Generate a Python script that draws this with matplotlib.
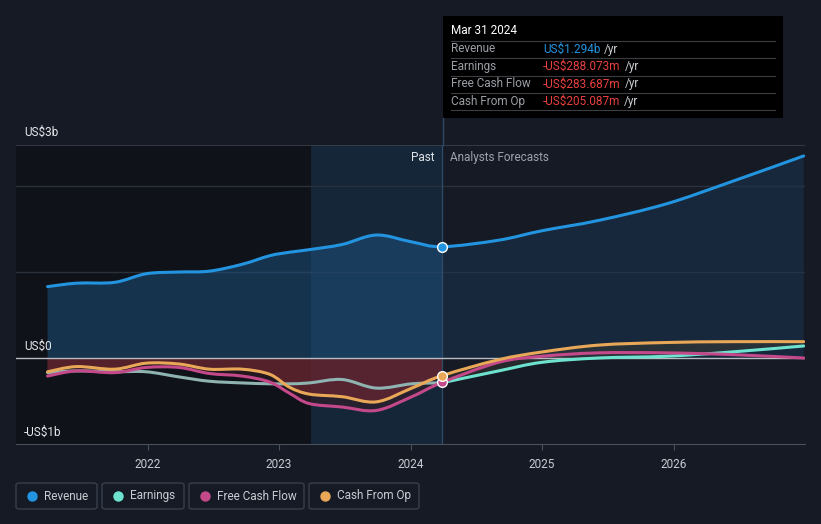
import matplotlib
matplotlib.use("Agg")
import matplotlib.pyplot as plt
from matplotlib.patches import FancyBboxPatch, Rectangle, PathPatch
from matplotlib.path import Path
import numpy as np

plt.rcParams['font.family'] = ['Roboto', 'DejaVu Sans']

# data (US$ billions, time in fractional years)
past_t = [2021.24, 2021.46, 2021.75, 2021.99, 2022.24, 2022.47, 2022.72, 2022.93,
          2023.08, 2023.23, 2023.48, 2023.74, 2024.01, 2024.24]
revenue_past = [0.83, 0.87, 0.88, 0.98, 1.00, 1.01, 1.09, 1.19, 1.23, 1.26, 1.32, 1.43, 1.35, 1.294]
earnings_past = [-0.17, -0.15, -0.16, -0.16, -0.22, -0.27, -0.29, -0.30, -0.30, -0.29, -0.25, -0.35, -0.30, -0.288]
fcf_past = [-0.21, -0.15, -0.17, -0.11, -0.11, -0.18, -0.21, -0.28, -0.41, -0.53, -0.57, -0.61, -0.45, -0.284]
cfo_past = [-0.16, -0.10, -0.13, -0.06, -0.07, -0.13, -0.13, -0.19, -0.34, -0.42, -0.45, -0.51, -0.35, -0.205]

fc_t = [2024.24, 2024.67, 2025.0, 2025.43, 2025.94, 2026.44, 2026.99]
revenue_fc = [1.294, 1.37, 1.48, 1.60, 1.79, 2.05, 2.35]
earnings_fc = [-0.288, -0.15, -0.05, 0.0, 0.02, 0.07, 0.14]
fcf_fc = [-0.284, -0.05, 0.02, 0.06, 0.06, 0.04, 0.0]
cfo_fc = [-0.205, -0.02, 0.07, 0.15, 0.18, 0.19, 0.19]

year_ticks = [2022, 2023, 2024, 2025, 2026]
now_t = 2024.24
hl_start = 2023.24

C_REV = '#2394df'
C_EARN = '#6de3cf'
C_FCF = '#c4498a'
C_CFO = '#e8a857'
BG = '#151a24'

W, H = 821, 524
fig = plt.figure(figsize=(W / 100, H / 100), dpi=100, facecolor=BG)

x0, x1 = 2021.0, 2027.0
ymin, ymax = -1.0, 2.477
ax = fig.add_axes([16 / W, 1 - 444 / H, (805 - 16) / W, (444 - 145) / H])
ax.set_facecolor(BG)
ax.set_xlim(x0, x1)
ax.set_ylim(ymin, ymax)


def smooth(xs, ys):
    # bezier path through the points (drawing only)
    p = np.column_stack([xs, ys]).astype(float)
    verts = [p[0]]
    codes = [Path.MOVETO]
    n = len(p)
    for i in range(n - 1):
        a = p[i - 1] if i > 0 else p[i]
        b, c = p[i], p[i + 1]
        d = p[i + 2] if i + 2 < n else p[i + 1]
        verts += [b + (c - a) / 6, c - (d - b) / 6, c]
        codes += [Path.CURVE4] * 3
    return verts, codes


def line(xs, ys, col, z=5):
    v, c = smooth(xs, ys)
    ax.add_patch(PathPatch(Path(v, c), fill=False, edgecolor=col, lw=2.2, zorder=z,
                           capstyle='round', joinstyle='round'))


def band(xs, ya, yb, col, alpha, clip=None, z=2):
    va, ca = smooth(xs, ya)
    vb, cb = smooth(xs, yb)
    vb = vb[::-1]
    cb = [Path.LINETO] + [Path.CURVE4] * (len(vb) - 1)
    v = va + vb + [va[0]]
    c = ca + cb + [Path.CLOSEPOLY]
    pp = PathPatch(Path(v, c), facecolor=col, alpha=alpha, lw=0, zorder=z)
    ax.add_patch(pp)
    if clip is not None:
        r = Rectangle((clip[0], ymin), clip[1] - clip[0], ymax - ymin, transform=ax.transData)
        pp.set_clip_path(r)


# background regions
ax.axvspan(x0, hl_start, color='#0f1218', zorder=0)
ax.axvspan(hl_start, now_t, color='#15283b', alpha=0.9, zorder=0, lw=0)

# grid lines
for g in [1.0, 2.0]:
    ax.axhline(g, color='#2b313c', lw=1, zorder=1)
ax.axhline(ymax, color='#3a404b', lw=1.2, zorder=1)
ax.axhline(0, color='#b8bcc2', lw=1, zorder=4)

t_all = past_t + fc_t[1:]
rev_all = revenue_past + revenue_fc[1:]
earn_all = earnings_past + earnings_fc[1:]
fcf_all = fcf_past + fcf_fc[1:]
cfo_all = cfo_past + cfo_fc[1:]
zeros = [0.0] * len(t_all)

# fills
band(t_all, rev_all, zeros, '#1d4f7c', 0.55, clip=(x0, now_t))
band(t_all, rev_all, zeros, '#1c3550', 0.55, clip=(now_t, x1))
band(t_all, cfo_all, zeros, '#b0343a', 0.6, clip=(x0, now_t))
band(t_all, fcf_all, zeros, '#3a1c28', 0.5, clip=(x0, now_t))
band(t_all, cfo_all, earn_all, '#3a3a35', 0.5, clip=(now_t, x1))

# lines
line(t_all, rev_all, C_REV, z=6)
line(past_t, earnings_past, '#8fb3b0')
line(fc_t, earnings_fc, C_EARN)
line(t_all, fcf_all, C_FCF)
line(t_all, cfo_all, C_CFO)

ax.plot([now_t], [revenue_past[-1]], 'o', ms=7, color=C_REV, mec='white', mew=1, zorder=8)
ax.plot([now_t], [fcf_past[-1]], 'o', ms=7, color=C_FCF, mec='white', mew=1, zorder=8)
ax.plot([now_t], [cfo_past[-1]], 'o', ms=7, color=C_CFO, mec='white', mew=1, zorder=8)

# now line
ax.axvline(now_t, color='#2e4a66', lw=1, zorder=3)

for s in ['top', 'right', 'left']:
    ax.spines[s].set_visible(False)
ax.spines['bottom'].set_color('#4a505b')
ax.set_yticks([])
ax.set_xticks(year_ticks)
ax.set_xticklabels([str(y) for y in year_ticks])
ax.tick_params(axis='x', colors='#4a505b', labelcolor='#c8ccd2', labelsize=8.5, length=4, pad=6)

ax.text(now_t - 0.06, 2.33, 'Past', color='#e0e3e8', fontsize=8.5, ha='right', va='center', zorder=9)
ax.text(now_t + 0.06, 2.33, 'Analysts Forecasts', color='#9ea3ab', fontsize=8.5, ha='left', va='center', zorder=9)


def ft(x, y, s, **kw):
    return fig.text(x / W, 1 - y / H, s, **kw)


ft(24, 132, 'US$3b', color='#e6e8eb', fontsize=8.5, va='center')
ft(24, 346, 'US$0', color='#e6e8eb', fontsize=8.5, va='center')
ft(24, 432, '-US$1b', color='#e6e8eb', fontsize=8.5, va='center')

# tooltip vertical line above plot
fig.add_artist(plt.Line2D([443 / W, 443 / W], [1 - 145 / H, 1 - 118 / H], color='#2e4a66', lw=1))

# tooltip
fig.add_artist(Rectangle((443 / W, 1 - 118 / H), (783 - 443) / W, (118 - 16) / H,
                         facecolor='#000000', edgecolor='none', transform=fig.transFigure))
ft(451, 31, 'Mar 31 2024', color='#ffffff', fontsize=8.5, va='center')
rows = [('Revenue', 'US$1.294b', C_REV),
        ('Earnings', '-US$288.073m', '#e8403f'),
        ('Free Cash Flow', '-US$283.687m', '#e8403f'),
        ('Cash From Op', '-US$205.087m', '#e8403f')]
fig.canvas.draw()
for i, (lab, val, col) in enumerate(rows):
    yy = 49 + i * 17.5
    fig.add_artist(plt.Line2D([451 / W, 775 / W], [1 - (yy - 8.5) / H] * 2, color='#3a3d42', lw=0.8))
    ft(451, yy, lab, color='#9a9ea5', fontsize=8.5, va='center')
    t = ft(543, yy, val, color=col, fontsize=8.5, va='center')
    bb = t.get_window_extent(renderer=fig.canvas.get_renderer())
    fig.text((bb.x1 + 4) / W, 1 - yy / H, '/yr', color='#c8ccd2', fontsize=8.5, va='center')
fig.add_artist(plt.Line2D([451 / W, 775 / W], [1 - 110 / H] * 2, color='#3a3d42', lw=0.8))

# legend buttons
legend = [('Revenue', C_REV, 16, 97), ('Earnings', C_EARN, 102, 184),
          ('Free Cash Flow', C_FCF, 189, 304), ('Cash From Op', C_CFO, 309, 419)]
for lab, col, lx, rx in legend:
    fig.add_artist(FancyBboxPatch((lx / W, 1 - 509 / H), (rx - lx) / W, 26 / H,
                                  boxstyle='round,pad=0,rounding_size=0.004',
                                  facecolor='none', edgecolor='#3a404b', lw=1,
                                  transform=fig.transFigure))
    fig.add_artist(plt.Line2D([(lx + 16) / W], [1 - 496 / H], marker='o', ms=6.5,
                              color=col, transform=fig.transFigure))
    ft(lx + 28, 496, lab, color='#c8ccd2', fontsize=8.5, va='center')

fig.savefig('out.png', dpi=100, facecolor=BG)
